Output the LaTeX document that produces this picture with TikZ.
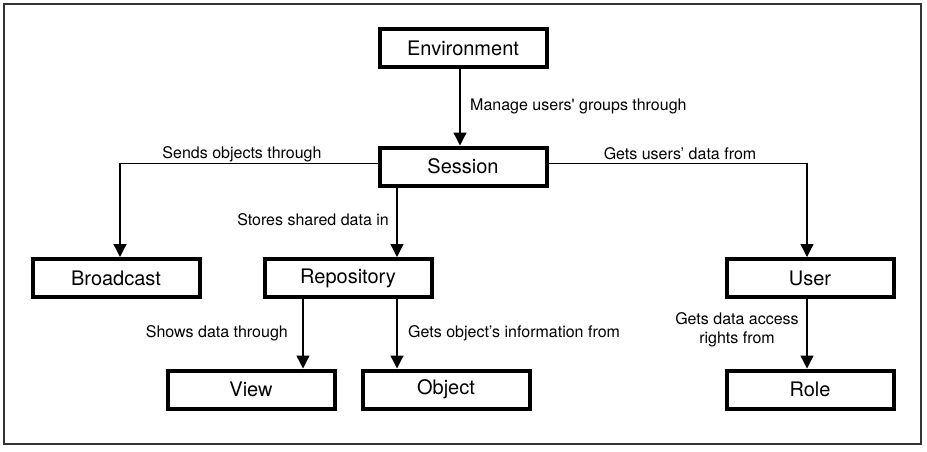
\documentclass[tikz,border=0pt]{standalone}
\usepackage{fontspec}
\setmainfont{TeX Gyre Heros}
\usetikzlibrary{arrows.meta}

\begin{document}
\begin{tikzpicture}[x=1pt,y=-1pt,
    box/.style={draw, line width=4pt, minimum width=167pt, minimum height=38pt,
        inner sep=0pt, font=\fontsize{20}{22}\selectfont},
    link/.style={line width=1.3pt, -{Triangle[length=13pt,width=13pt]}},
    lbl/.style={inner sep=0pt, font=\fontsize{16}{19}\selectfont}]

    \useasboundingbox (0,0) rectangle (927,451);
    \draw[line width=1.3pt, black!80] (4,4) rectangle (921,444);

    \node[box] (env) at (463,48) {Environment};
    \node[box] (sess) at (463,166.5) {Session};
    \node[box] (bcast) at (116,278) {Broadcast};
    \node[box] (repo) at (348,278) {Repository};
    \node[box] (user) at (810,278) {User};
    \node[box] (view) at (251,389.5) {View};
    \node[box] (obj) at (446,389.5) {Object};
    \node[box] (role) at (810,389.5) {Role};

    \coordinate (bx) at ([xshift=4pt]bcast.north);
    \coordinate (rx) at ([xshift=49pt]repo.north);
    \coordinate (ux) at ([xshift=-3pt]user.north);
    \coordinate (vx) at ([xshift=52pt]view.north);
    \coordinate (ox) at ([xshift=-49pt]obj.north);
    \coordinate (rlx) at ([xshift=-3pt]role.north);

    \draw[link] ([xshift=-3pt]env.south) -- ([xshift=-3pt]sess.north);
    \draw[link] ([yshift=3pt]sess.west) -| (bx);
    \draw[link] (sess.south -| rx) -- (rx);
    \draw[link] ([yshift=3pt]sess.east) -| (ux);
    \draw[link] (repo.south -| vx) -- (vx);
    \draw[link] (repo.south -| ox) -- (ox);
    \draw[link] (user.south -| rlx) -- (rlx);

    \node[lbl, anchor=west] (lmanage) at (470,106) {Manage users\textquotesingle{} groups through};
    \node[lbl] (lsends) at (242,154) {Sends objects through};
    \node[lbl] (lgets) at (680,154) {Gets users’ data from};
    \node[lbl, anchor=east] (lstores) at (389,220) {Stores shared data in};
    \node[lbl, anchor=east] (lshows) at (288,333) {Shows data through};
    \node[lbl, anchor=west] (lobj) at (408,333) {Gets object’s information from};
    \node[lbl, align=center] (lrights) at (737,330) {Gets data access\\rights from};

\end{tikzpicture}
\end{document}
